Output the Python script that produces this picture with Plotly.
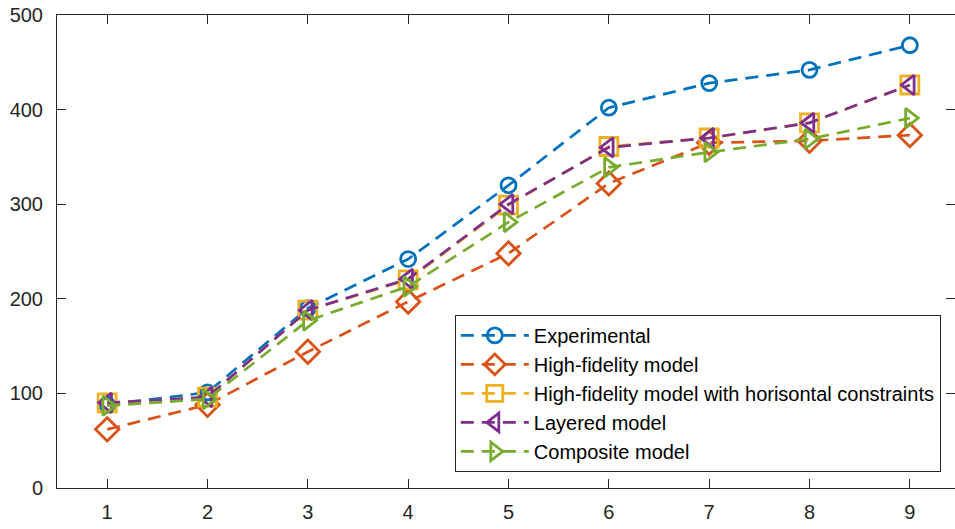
import plotly.graph_objects as go

# Sample index along the x axis
x_vals = [1, 2, 3, 4, 5, 6, 7, 8, 9]

# Series values
experimental = [88, 101, 190, 242, 320, 402, 428, 442, 468]
high_fidelity = [62, 88, 144, 197, 248, 322, 365, 367, 373]
hf_horisontal = [90, 96, 188, 220, 299, 361, 370, 386, 426]
layered = [90, 96, 188, 221, 300, 360, 370, 386, 426]
composite = [87, 94, 177, 213, 281, 339, 355, 369, 391]

y_ticks = [0, 100, 200, 300, 400, 500]

series = [
    ("Experimental", experimental, "#0072BD", "circle-open", 15),
    ("High-fidelity model", high_fidelity, "#D95319", "diamond-open", 18),
    ("High-fidelity model with horisontal constraints", hf_horisontal, "#EDB120", "square-open", 18),
    ("Layered model", layered, "#7E2F8E", "triangle-left-open", 17),
    ("Composite model", composite, "#77AC30", "triangle-right-open", 17),
]

fig = go.Figure()
for name, vals, color, symbol, size in series:
    fig.add_trace(go.Scatter(
        x=x_vals, y=vals, name=name, mode="lines+markers",
        line=dict(color=color, width=2.7, dash="13px,8px"),
        marker=dict(symbol=symbol, size=size, color=color,
                    line=dict(color=color, width=2.8)),
    ))

axis_color = "#262626"
fig.update_layout(
    width=955, height=529,
    margin=dict(l=57, r=0, t=15, b=41),
    paper_bgcolor="white", plot_bgcolor="white",
    font=dict(family="Liberation Sans, Arial, sans-serif", size=20, color=axis_color),
    showlegend=True,
    legend=dict(
        x=0.443, y=0.366, xanchor="left", yanchor="top",
        bgcolor="white", bordercolor=axis_color, borderwidth=1,
        font=dict(size=20, color="#000000"),
        itemwidth=68, tracegroupgap=0,
    ),
)
fig.update_xaxes(
    range=[0.5, 9.45], tickvals=x_vals, ticktext=[str(v) for v in x_vals],
    showgrid=False, zeroline=False,
    showline=True, linecolor=axis_color, linewidth=1, mirror="ticks",
    ticks="inside", ticklen=9, tickcolor=axis_color, tickwidth=1,
    ticklabelstandoff=6,
)
fig.update_yaxes(
    range=[0, 500], tickvals=y_ticks,
    showgrid=False, zeroline=False,
    showline=True, linecolor=axis_color, linewidth=1, mirror="ticks",
    ticks="inside", ticklen=9, tickcolor=axis_color, tickwidth=1,
    ticklabelstandoff=9,
)

fig.write_html("out.html")
